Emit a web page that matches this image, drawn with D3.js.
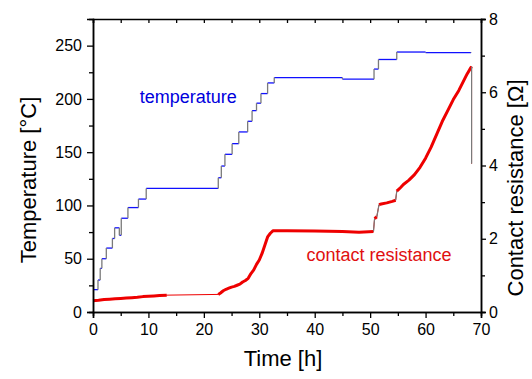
<!DOCTYPE html>
<html>
<head>
<meta charset="utf-8">
<script src="https://cdn.jsdelivr.net/npm/d3@7"></script>
<style>
body { margin: 0; background: #fff; }
svg { font-family: "Liberation Sans", Arial, sans-serif; }
</style>
</head>
<body>
<div id="chart"></div>
<script>
// temperature set points: [time h, temperature degC] (value holds until the next entry)
var tempSteps = [
    [0, 21], [0.9, 30], [1.3, 41], [1.6, 50], [2.4, 60], [3.5, 69], [3.9, 79], [4.75, 72],
    [5.1, 88], [6.3, 98], [8.2, 106], [9.6, 116], [22.6, 126], [23.15, 137], [23.8, 148],
    [25.1, 158], [26.3, 169], [27.9, 179], [28.7, 189], [29.5, 196], [30.3, 205], [31.5, 215],
    [32.7, 220], [45, 218.5], [50.7, 228], [51.5, 237], [54.8, 244], [60, 243.5], [68.2, 243]
];

// contact resistance recordings: [time h, resistance Ohm]
var resA = [
    [0, 0.31], [1, 0.32], [2, 0.34], [3, 0.35], [4, 0.36], [5, 0.37], [6, 0.38], [7, 0.39],
    [8, 0.4], [9, 0.42], [10, 0.43], [11, 0.44], [12, 0.45], [13.3, 0.46]
];
var resB = [
    [22.6, 0.48], [23, 0.52], [23.5, 0.58], [24, 0.62], [24.5, 0.65], [25, 0.68], [25.5, 0.7],
    [26, 0.73], [26.5, 0.76], [27, 0.82], [27.5, 0.86], [28, 0.92], [28.5, 1.05], [29, 1.15],
    [29.5, 1.3], [30, 1.42], [30.5, 1.6], [31, 1.82], [31.5, 2.05], [32, 2.15], [32.5, 2.22],
    [35, 2.22], [40, 2.21], [45, 2.2], [48, 2.18], [50.6, 2.2]
];
var resC = [[50.8, 2.55], [51.2, 2.6]];
var resD = [[51.6, 2.93], [52, 2.95], [53, 2.98], [54, 3.02], [54.6, 3.05]];
var resE = [
    [54.8, 3.3], [55.5, 3.4], [56, 3.48], [57, 3.6], [58, 3.75], [59, 3.95], [60, 4.2],
    [61, 4.5], [62, 4.85], [63, 5.2], [64, 5.5], [65, 5.8], [66, 6.05], [67, 6.35],
    [67.5, 6.5], [68, 6.63], [68.3, 6.7]
];
var resEnd = [[68.3, 4.05]];
var resBlocks = [resA, resB, resC, resD, resE, resEnd];

var timeTicks = [0, 10, 20, 30, 40, 50, 60, 70];
var timeMinor = [5, 15, 25, 35, 45, 55, 65];
var tempTicks = [0, 50, 100, 150, 200, 250];
var tempMinor = [25, 75, 125, 175, 225];
var resTicks = [0, 2, 4, 6, 8];
var resMinor = [1, 3, 5, 7];

var margin = {top: 19, right: 51, bottom: 67, left: 93};
var width = 532, height = 379;
var w = width - margin.left - margin.right,
    h = height - margin.top - margin.bottom;

var svg = d3.select("#chart").append("svg")
    .attr("width", width)
    .attr("height", height);
var g = svg.append("g")
    .attr("transform", "translate(" + margin.left + "," + margin.top + ")");

var x = d3.scaleLinear().domain([0, 70]).range([0, w]);
var yT = d3.scaleLinear().domain([0, 275]).range([h, 0]);
var yR = d3.scaleLinear().domain([0, 8]).range([h, 0]);

var blue = "#1010ff", red = "#ee0000", grey = "#7a7a7a";

// temperature: blue plateaus, grey risers
var plateaus = g.append("g");
var risers = g.append("g");
for (var i = 0; i < tempSteps.length - 1; i++) {
    plateaus.append("line")
        .attr("x1", x(tempSteps[i][0])).attr("x2", x(tempSteps[i + 1][0]))
        .attr("y1", yT(tempSteps[i][1])).attr("y2", yT(tempSteps[i][1]))
        .attr("stroke", blue).attr("stroke-width", 1.3);
    risers.append("line")
        .attr("x1", x(tempSteps[i + 1][0])).attr("x2", x(tempSteps[i + 1][0]))
        .attr("y1", yT(tempSteps[i][1])).attr("y2", yT(tempSteps[i + 1][1]))
        .attr("stroke", grey).attr("stroke-width", 1.3);
}

// resistance
var line = d3.line()
    .x(function (d) { return x(d[0]); })
    .y(function (d) { return yR(d[1]); });

var allRes = [].concat.apply([], resBlocks);
g.append("path")
    .datum(allRes)
    .attr("fill", "none")
    .attr("stroke", red)
    .attr("stroke-width", 1)
    .attr("d", line);

resBlocks.forEach(function (b) {
    if (b.length < 2) return;
    g.append("path")
        .datum(b)
        .attr("fill", "none")
        .attr("stroke", red)
        .attr("stroke-width", 3)
        .attr("stroke-linejoin", "round")
        .attr("d", line);
});

// jumps between recordings in grey
for (var j = 0; j < resBlocks.length - 1; j++) {
    var a = resBlocks[j][resBlocks[j].length - 1], b = resBlocks[j + 1][0];
    if (Math.abs(b[1] - a[1]) > 0.2) {
        g.append("path")
            .datum([a, b])
            .attr("fill", "none")
            .attr("stroke", grey)
            .attr("stroke-width", 1.2)
            .attr("d", line);
    }
}

// axes
function styleAxis(sel) {
    sel.select(".domain").attr("stroke", "#000").attr("stroke-width", 1.5);
    sel.selectAll(".tick line").attr("stroke", "#000").attr("stroke-width", 1.3);
    sel.selectAll("text").attr("font-size", "16px").attr("fill", "#000")
        .attr("font-family", "Liberation Sans, Arial, sans-serif");
}

var gx = g.append("g").attr("transform", "translate(0," + h + ")")
    .call(d3.axisBottom(x).tickValues(timeTicks).tickSize(6).tickPadding(6).tickFormat(d3.format("d")));
styleAxis(gx);
var gxm = g.append("g").attr("transform", "translate(0," + h + ")")
    .call(d3.axisBottom(x).tickValues(timeMinor).tickSize(4).tickFormat(""));
styleAxis(gxm);

var gtop = g.append("g")
    .call(d3.axisTop(x).tickValues(timeTicks.concat(timeMinor)).tickSize(-4).tickFormat(""));
styleAxis(gtop);

var gy = g.append("g")
    .call(d3.axisLeft(yT).tickValues(tempTicks).tickSize(6).tickPadding(5).tickFormat(d3.format("d")));
styleAxis(gy);
var gym = g.append("g")
    .call(d3.axisLeft(yT).tickValues(tempMinor).tickSize(4).tickFormat(""));
styleAxis(gym);

var gr = g.append("g").attr("transform", "translate(" + w + ",0)")
    .call(d3.axisRight(yR).tickValues(resTicks).tickSize(5).tickPadding(3).tickFormat(d3.format("d")));
styleAxis(gr);
var grm = g.append("g").attr("transform", "translate(" + w + ",0)")
    .call(d3.axisRight(yR).tickValues(resMinor).tickSize(4).tickFormat(""));
styleAxis(grm);

// titles
svg.append("text")
    .attr("x", 283).attr("y", 366)
    .attr("text-anchor", "middle")
    .attr("font-size", "22px")
    .text("Time [h]");

svg.append("text")
    .attr("transform", "translate(36,180) rotate(-90)")
    .attr("text-anchor", "middle")
    .attr("font-size", "22px")
    .text("Temperature [°C]");

svg.append("text")
    .attr("transform", "translate(523,188) rotate(-90)")
    .attr("text-anchor", "middle")
    .attr("font-size", "22px")
    .text("Contact resistance [Ω]");

// series labels
g.append("text")
    .attr("x", x(8.45)).attr("y", yT(196))
    .attr("fill", "#0000dd")
    .attr("font-size", "18px")
    .text("temperature");

g.append("text")
    .attr("x", x(38.5)).attr("y", yR(1.39))
    .attr("fill", "#e01010")
    .attr("font-size", "18px")
    .text("contact resistance");
</script>
</body>
</html>
